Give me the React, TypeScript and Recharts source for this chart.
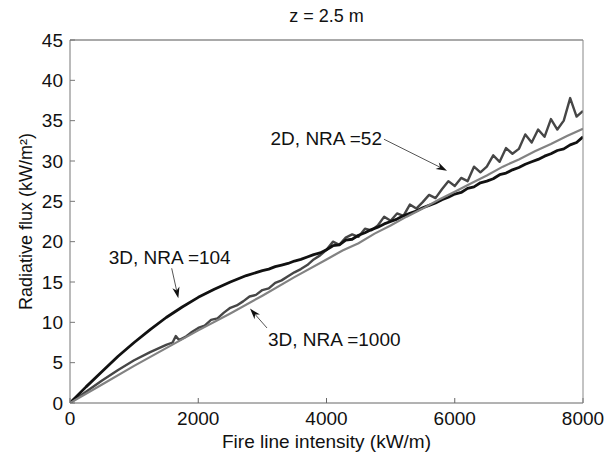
import React from 'react';
import { LineChart, Line, XAxis, YAxis, ReferenceLine } from 'recharts';

document.body.style.margin = '0';

// ---------- data ----------

const xTicks = [0, 2000, 4000, 6000, 8000];
const yTicks = [0, 5, 10, 15, 20, 25, 30, 35, 40, 45];

// 3D, NRA = 104 (black)
const intensity104 = [
  0, 250, 500, 750, 1000, 1250, 1500, 1750, 2000, 2250, 2500, 2750, 3000,
  3100, 3200, 3300, 3400, 3500, 3600, 3700, 3800, 3900, 4000,
  4100, 4200, 4300, 4400, 4500, 4600, 4700, 4800, 4900, 5000,
  5100, 5200, 5300, 5400, 5500, 5600, 5700, 5800, 5900, 6000,
  6100, 6200, 6300, 6400, 6500, 6600, 6700, 6800, 6900, 7000,
  7100, 7200, 7300, 7400, 7500, 7600, 7700, 7800, 7900, 8000,
];
const flux104 = [
  0, 2.0, 3.9, 5.8, 7.5, 9.1, 10.6, 11.9, 13.1, 14.1, 15.0, 15.8, 16.4,
  16.6, 16.9, 17.1, 17.3, 17.6, 17.8, 18.1, 18.4, 18.6, 19.0,
  19.5, 19.6, 20.2, 20.3, 20.8, 21.1, 21.5, 21.8, 22.2, 22.5,
  22.8, 23.2, 23.5, 23.8, 24.2, 24.5, 24.8, 25.2, 25.5, 25.9,
  26.1, 26.6, 26.8, 27.3, 27.5, 27.8, 28.3, 28.5, 28.9, 29.2,
  29.6, 29.9, 30.2, 30.6, 30.9, 31.3, 31.5, 32.0, 32.3, 33.0,
];

// 2D, NRA = 52 (dark grey, noisy)
const intensity52 = [
  0, 250, 500, 750, 1000, 1250, 1500, 1600, 1650, 1700, 1800, 1900, 2000,
  2100, 2200, 2300, 2400, 2500, 2600, 2700, 2800, 2900, 3000,
  3100, 3200, 3300, 3400, 3500, 3600, 3700, 3800, 3900, 4000,
  4100, 4200, 4300, 4400, 4500, 4600, 4700, 4800, 4900, 5000,
  5100, 5200, 5300, 5400, 5500, 5600, 5700, 5800, 5900, 6000,
  6100, 6200, 6300, 6400, 6500, 6600, 6700, 6800, 6900, 7000,
  7100, 7200, 7300, 7400, 7500, 7600, 7700, 7800, 7900, 8000,
];
const flux52 = [
  0, 1.4, 2.8, 4.1, 5.3, 6.3, 7.2, 7.5, 8.3, 7.8, 8.2, 8.8, 9.3,
  9.6, 10.3, 10.5, 11.2, 11.8, 12.1, 12.6, 13.2, 13.4, 14.0,
  14.2, 14.9, 15.2, 15.7, 16.2, 16.6, 17.1, 17.8, 18.3, 19.0,
  20.0, 19.6, 20.5, 20.9, 20.6, 21.6, 21.4, 22.0, 23.1, 22.6,
  23.5, 23.2, 24.6, 24.1, 24.9, 25.8, 25.4, 26.5, 27.5, 26.9,
  27.9, 27.5, 29.3, 28.6, 29.3, 30.7, 29.9, 31.6, 30.9, 31.5,
  33.3, 32.3, 33.9, 33.0, 35.2, 33.9, 35.0, 37.8, 35.5, 36.2,
];

// 3D, NRA = 1000 (light grey)
const intensity1000 = [
  0, 500, 1000, 1500, 2000, 2500, 3000, 3500, 4000, 4250, 4500, 4750, 5000,
  5250, 5500, 5750, 6000, 6250, 6500, 6750, 7000, 7250, 7500, 7750, 8000,
];
const flux1000 = [
  0, 2.3, 4.6, 6.8, 9.0, 11.1, 13.3, 15.6, 17.8, 18.9, 19.8, 21.0, 22.0,
  23.1, 24.1, 25.2, 26.2, 27.2, 28.2, 29.3, 30.2, 31.2, 32.1, 33.1, 34.0,
];

const toPoints = (xs: number[], ys: number[]) => xs.map((x, i) => ({ x, y: ys[i] }));

const FONT = '"Liberation Sans", Arial, Helvetica, sans-serif';

// arrow + text annotation drawn from segment end points
const arrowShape =
  (text: string, anchor: 'start' | 'middle' | 'end', dx: number, dy: number) =>
  (props: any) => {
    const { x1, y1, x2, y2 } = props;
    const ang = Math.atan2(y2 - y1, x2 - x1);
    const len = 11;
    const half = 3.6;
    const bx = x2 - len * Math.cos(ang);
    const by = y2 - len * Math.sin(ang);
    const px = -Math.sin(ang) * half;
    const py = Math.cos(ang) * half;
    const nx = x2 - len * 0.7 * Math.cos(ang);
    const ny = y2 - len * 0.7 * Math.sin(ang);
    return (
      <g>
        <line x1={x1} y1={y1} x2={nx} y2={ny} stroke="#555" strokeWidth={1} />
        <polygon
          points={`${x2},${y2} ${bx + px},${by + py} ${nx},${ny} ${bx - px},${by - py}`}
          fill="#111"
        />
        <text
          x={x1 + dx}
          y={y1 + dy}
          textAnchor={anchor}
          dominantBaseline="central"
          fontFamily={FONT}
          fontSize={19}
          fill="#111"
        >
          {text}
        </text>
      </g>
    );
  };

const YTitle = (props: any) => {
  const { viewBox } = props;
  const cx = viewBox.x + 26;
  const cy = viewBox.y + viewBox.height / 2;
  return (
    <text
      x={cx}
      y={cy}
      transform={`rotate(-90, ${cx}, ${cy})`}
      textAnchor="middle"
      dominantBaseline="central"
      fontFamily={FONT}
      fontSize={18}
      fill="#111"
    >
      Radiative flux (kW/m²)
    </text>
  );
};

const TopTitle = (props: any) => {
  const { viewBox } = props;
  return (
    <text
      x={viewBox.x + viewBox.width / 2}
      y={viewBox.y - 23}
      textAnchor="middle"
      dominantBaseline="central"
      fontFamily={FONT}
      fontSize={18}
      fill="#111"
    >
      z = 2.5 m
    </text>
  );
};

const tickStyle = { fontFamily: FONT, fontSize: 19, fill: '#111' };

export default function App() {
  return (
    <div style={{ width: 609, height: 457, background: '#fff' }}>
      <LineChart width={609} height={457} margin={{ top: 39, right: 25, bottom: 0, left: 0 }}>
        <XAxis
          type="number"
          dataKey="x"
          domain={[0, 8000]}
          ticks={xTicks}
          allowDataOverflow
          height={54}
          tickSize={-5}
          tickMargin={14}
          stroke="#666"
          tick={tickStyle}
          label={{ value: 'Fire line intensity (kW/m)', position: 'insideBottom', offset: 9, style: { fontFamily: FONT, fontSize: 19, fill: '#111' } }}
        />
        <XAxis
          xAxisId="top"
          orientation="top"
          type="number"
          dataKey="x"
          domain={[0, 8000]}
          ticks={xTicks}
          allowDataOverflow
          height={1}
          tickSize={-5}
          tick={false}
          stroke="#555"
          label={<TopTitle />}
        />
        <YAxis
          type="number"
          domain={[0, 45]}
          ticks={yTicks}
          allowDataOverflow
          width={70}
          tickSize={-5}
          tickMargin={12}
          stroke="#777"
          tick={tickStyle}
          label={<YTitle />}
        />
        <YAxis
          yAxisId="right"
          orientation="right"
          type="number"
          domain={[0, 45]}
          ticks={yTicks}
          allowDataOverflow
          width={1}
          tickSize={-5}
          tick={false}
          stroke="#888"
        />
        <Line
          data={toPoints(intensity52, flux52)}
          dataKey="y"
          type="linear"
          stroke="#464646"
          strokeWidth={2.4}
          strokeLinejoin="round"
          dot={false}
          isAnimationActive={false}
        />
        <Line
          data={toPoints(intensity104, flux104)}
          dataKey="y"
          type="linear"
          stroke="#111"
          strokeWidth={2.8}
          strokeLinejoin="round"
          dot={false}
          isAnimationActive={false}
        />
        <Line
          data={toPoints(intensity1000, flux1000)}
          dataKey="y"
          type="linear"
          stroke="#828282"
          strokeWidth={2.2}
          dot={false}
          isAnimationActive={false}
        />
        <ReferenceLine
          segment={[{ x: 4896, y: 32.7 }, { x: 5879, y: 28.8 }]}
          shape={arrowShape('2D, NRA =52', 'end', -2, -1)}
        />
        <ReferenceLine
          segment={[{ x: 1586, y: 16.7 }, { x: 1689, y: 13.0 }]}
          shape={arrowShape('3D, NRA =104', 'middle', -2, -11)}
        />
        <ReferenceLine
          segment={[{ x: 3072, y: 9.3 }, { x: 2807, y: 11.7 }]}
          shape={arrowShape('3D, NRA =1000', 'start', 1, 12)}
        />
      </LineChart>
    </div>
  );
}
